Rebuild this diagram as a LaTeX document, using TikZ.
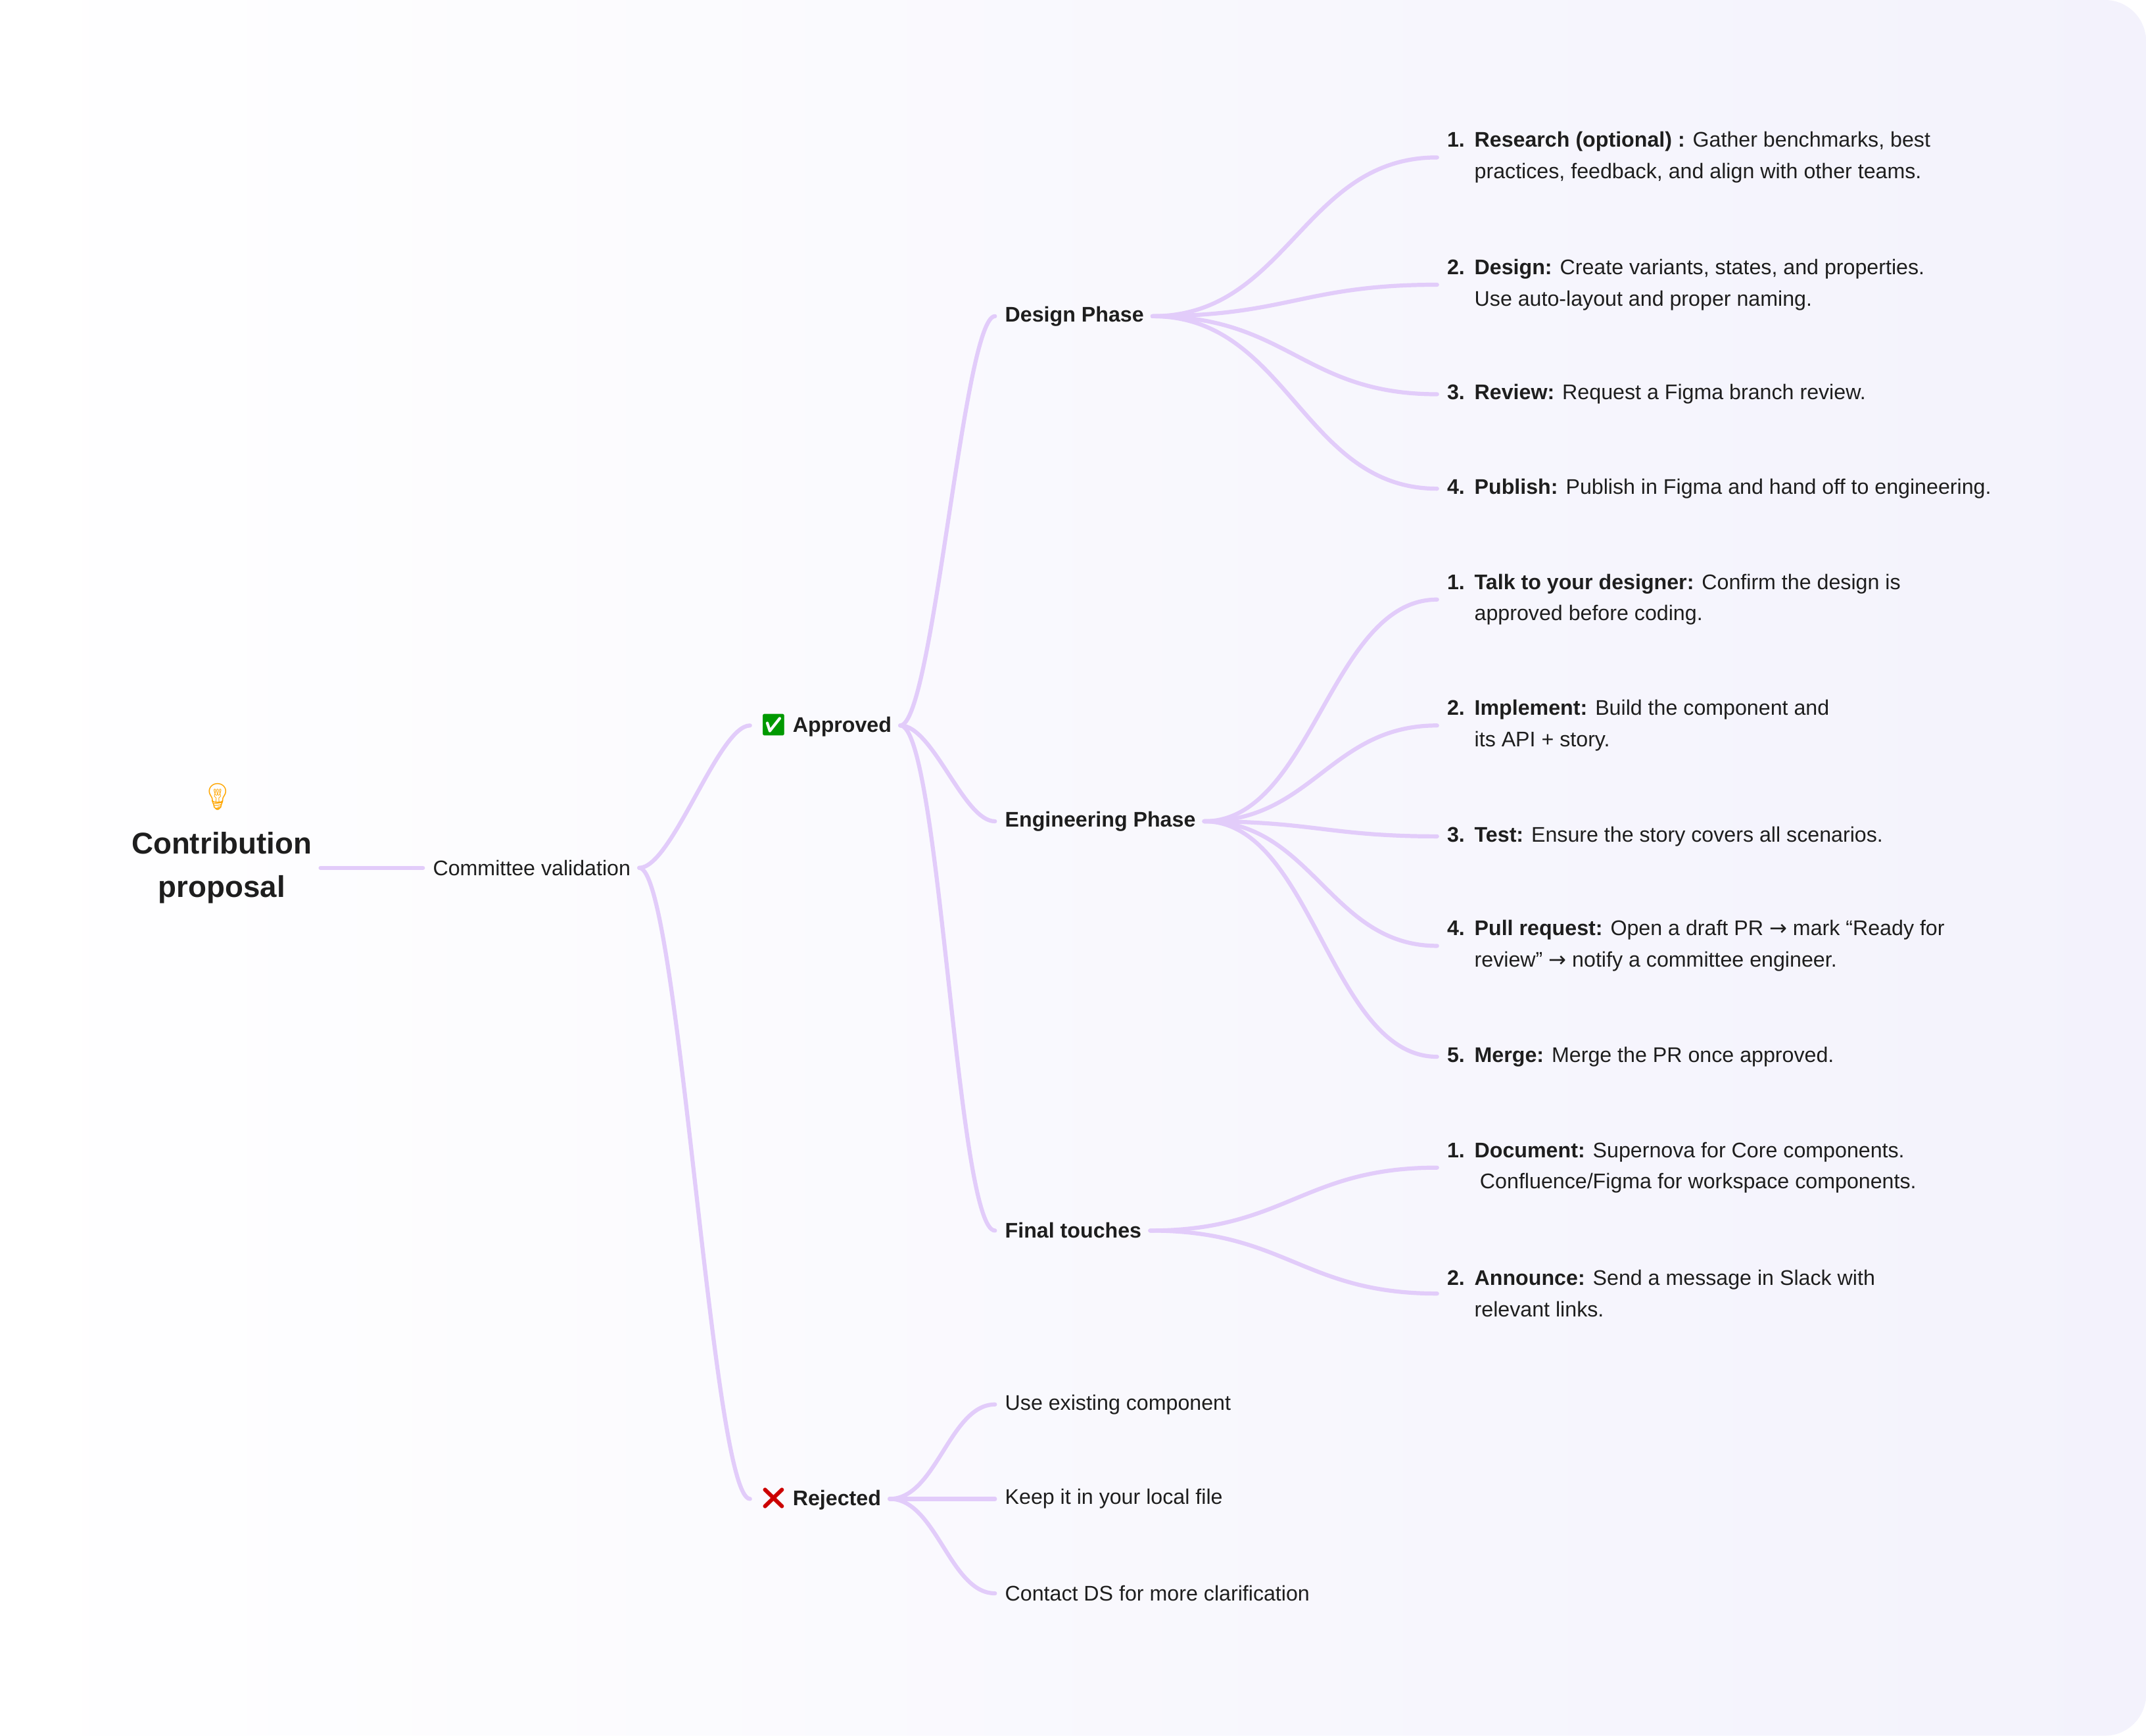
\documentclass[tikz,border=0pt]{standalone}
\usepackage{fontspec}
\setmainfont{Liberation Sans}
\newfontfamily\emo{Noto Emoji}
\newfontfamily\sym{DejaVu Sans}
\usetikzlibrary{positioning}
\definecolor{lilac}{HTML}{E2CCFA}
\definecolor{paper}{HTML}{F3F2FC}
\definecolor{ink}{HTML}{1E1E1E}
\newcommand{\Unit}{0.02cm}
\newcommand{\itm}[3]{\makebox[0.4cm][l]{\textbf{#1.}}\parbox[t]{9cm}{\raggedright\textbf{#2} #3}}
\tikzset{Label/.style={
    inner sep=0pt,
    anchor=west,
    text=ink,
    font=\fontsize{8.8}{13}\selectfont,
    }
}

\begin{document}
\begin{tikzpicture}[x=\Unit, y=-\Unit,
    Head/.style={Label, font=\fontsize{8.8}{13}\selectfont\bfseries},
    Item/.style={Label},
    Branch/.style={draw=lilac, line width=1.7pt, line cap=round,
      shorten <=0.12cm, shorten >=0.14cm},
]
\shade[left color=white, right color=paper, rounded corners=0.6cm]
  (0,0) rectangle (1568,1268);
\useasboundingbox (0,0) rectangle (1568,1268);

% root and first level
\node [inner sep=0pt, align=center, text=ink, font=\fontsize{12.5}{18}\selectfont\bfseries]
  (root) at (162,634) {Contribution\\proposal};
\node [font=\emo\fontsize{11}{11}\selectfont, text=orange!70!yellow] (bulb) at (159,582) {💡};
\node [Label] (valid) at (316,634) {Committee validation};
\node [Head] (yes) at (555,530) {{\emo\textcolor{green!60!black}{✅}} Approved};
\node [Head] (no) at (555,1095) {{\emo\textcolor{red!80!black}{❌}} Rejected};

% phases
\node [Head] (design) at (734,231) {Design Phase};
\node [Head] (eng) at (734,600) {Engineering Phase};
\node [Head] (final) at (734,899) {Final touches};

% design steps
\node [Item] (d1) at (1057,115) {\itm{1}{Research (optional) :}{Gather benchmarks, best\\practices, feedback, and align with other teams.}};
\node [Item] (d2) at (1057,208) {\itm{2}{Design:}{Create variants, states, and properties.\\Use auto-layout and proper naming.}};
\node [Item] (d3) at (1057,288) {\itm{3}{Review:}{Request a Figma branch review.}};
\node [Item] (d4) at (1057,357) {\itm{4}{Publish:}{Publish in Figma and hand off to engineering.}};

% engineering steps
\node [Item] (e1) at (1057,438) {\itm{1}{Talk to your designer:}{Confirm the design is\\approved before coding.}};
\node [Item] (e2) at (1057,530) {\itm{2}{Implement:}{Build the component and\\its API + story.}};
\node [Item] (e3) at (1057,611) {\itm{3}{Test:}{Ensure the story covers all scenarios.}};
\node [Item] (e4) at (1057,691) {\itm{4}{Pull request:}{Open a draft PR {\sym→} mark “Ready for\\review” {\sym→} notify a committee engineer.}};
\node [Item] (e5) at (1057,772) {\itm{5}{Merge:}{Merge the PR once approved.}};

% final steps
\node [Item] (f1) at (1057,853) {\itm{1}{Document:}{Supernova for Core components.\\\hspace*{0.08cm}Confluence/Figma for workspace components.}};
\node [Item] (f2) at (1057,945) {\itm{2}{Announce:}{Send a message in Slack with\\relevant links.}};

% rejected options
\node [Label] (r1) at (734,1026) {Use existing component};
\node [Label] (r2) at (734,1095) {Keep it in your local file};
\node [Label] (r3) at (734,1164) {Contact DS for more clarification};

% connectors
\draw [Branch] (root.east) -- (valid.west);
\foreach \a/\b/\h in {valid/yes/30, valid/no/35, yes/design/30, yes/eng/30, yes/final/35,
    design/d1/105, design/d2/105, design/d3/105, design/d4/105,
    eng/e1/85, eng/e2/85, eng/e3/85, eng/e4/85, eng/e5/85,
    final/f1/105, final/f2/105, no/r1/40, no/r2/40, no/r3/40}
  \draw [Branch] (\a.east) .. controls +(\h,0) and +(-\h,0) .. (\b.west);
\end{tikzpicture}
\end{document}
